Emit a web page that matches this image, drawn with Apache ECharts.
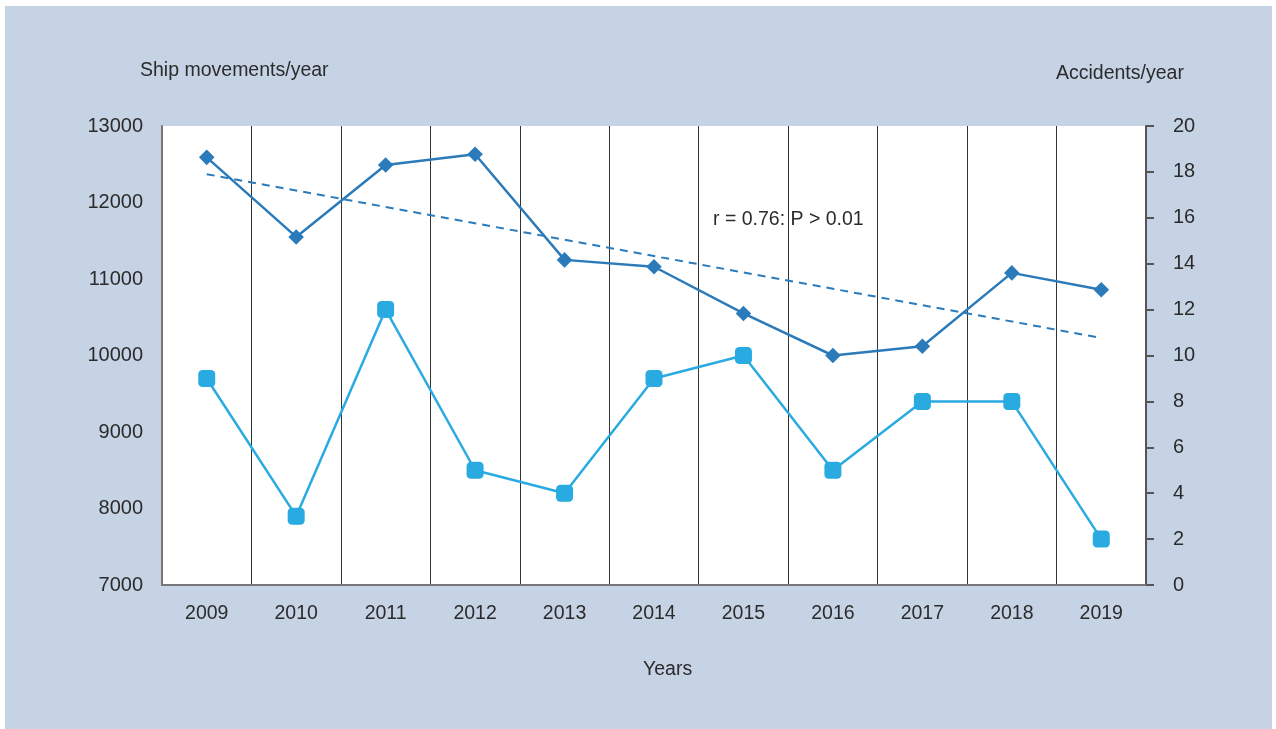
<!DOCTYPE html>
<html>
<head>
<meta charset="utf-8">
<script src="https://cdn.jsdelivr.net/npm/echarts@6/dist/echarts.min.js"></script>
<style>
  html, body { margin: 0; padding: 0; background: #fff; }
  #bg { position: absolute; left: 5px; top: 6px; width: 1267px; height: 723px; background: #c6d3e4; }
  #chart { position: absolute; left: 0; top: 0; width: 1276px; height: 729px; }
</style>
</head>
<body>
<div id="bg"></div>
<div id="chart"></div>
<script>
var years = ['2009', '2010', '2011', '2012', '2013', '2014', '2015', '2016', '2017', '2018', '2019'];
// ship movements per year (left axis)
var shipMovements = [12590, 11550, 12490, 12630, 11250, 11160, 10550, 10000, 10120, 11080, 10860];
// accidents per year (right axis)
var accidents = [9, 3, 12, 5, 4, 9, 10, 5, 8, 8, 2];
// dashed trend line end points
var trendLine = [['2009', 12370], ['2019', 10230]];
var leftTicks = [7000, 13000, 1000];
var rightTicks = [0, 20, 2];

var font = '"Liberation Sans", Arial, sans-serif';
var txt = '#2b2b2b';

var myChart = echarts.init(document.getElementById('chart'));

var option = {
    animation: false,
    textStyle: { fontFamily: font },
    grid: {
        left: 162,
        right: 130,
        top: 126,
        bottom: 144,
        show: true,
        backgroundColor: '#ffffff',
        borderWidth: 0
    },
    xAxis: {
        type: 'category',
        data: years,
        boundaryGap: true,
        axisLine: { lineStyle: { color: '#777', width: 2 } },
        axisTick: { show: false },
        axisLabel: { color: txt, fontSize: 19.5, margin: 19, fontFamily: font },
        splitLine: { show: true, lineStyle: { color: '#333', width: 1 } }
    },
    yAxis: [
        {
            type: 'value',
            min: leftTicks[0],
            max: leftTicks[1],
            interval: leftTicks[2],
            axisLine: { show: true, lineStyle: { color: '#777', width: 2 } },
            axisTick: { show: false },
            axisLabel: { color: txt, fontSize: 20, margin: 19, fontFamily: font, formatter: function (v) { return String(v); } },
            splitLine: { show: false }
        },
        {
            type: 'value',
            position: 'right',
            min: rightTicks[0],
            max: rightTicks[1],
            interval: rightTicks[2],
            axisLine: { show: true, lineStyle: { color: '#555', width: 2 } },
            axisTick: { show: true, inside: false, length: 8, lineStyle: { color: '#555', width: 2 } },
            axisLabel: { color: txt, fontSize: 20, margin: 27, fontFamily: font },
            splitLine: { show: false }
        }
    ],
    graphic: [
        { type: 'text', left: 140, top: 61, style: { text: 'Ship movements/year', fill: txt, font: '19.5px ' + font } },
        { type: 'text', left: 1056, top: 64, style: { text: 'Accidents/year', fill: txt, font: '19.5px ' + font } },
        { type: 'text', left: 643, top: 660, style: { text: 'Years', fill: txt, font: '19.5px ' + font } },
        { type: 'text', left: 713, top: 210, style: { text: 'r = 0.76: P > 0.01', fill: txt, font: '19.5px ' + font } }
    ],
    series: [
        {
            name: 'Trend',
            type: 'line',
            yAxisIndex: 0,
            data: trendLine,
            symbol: 'none',
            lineStyle: { color: '#2b7bba', width: 2, type: [8, 6] },
            z: 2
        },
        {
            name: 'Ship movements',
            type: 'line',
            yAxisIndex: 0,
            data: shipMovements,
            symbol: 'rect',
            symbolSize: 11,
            symbolRotate: 45,
            itemStyle: { color: '#2b7bba' },
            lineStyle: { color: '#2b7bba', width: 2.5 },
            z: 3
        },
        {
            name: 'Accidents',
            type: 'line',
            yAxisIndex: 1,
            data: accidents,
            symbol: 'roundRect',
            symbolSize: 17,
            itemStyle: { color: '#29abe2' },
            lineStyle: { color: '#29abe2', width: 2.5 },
            z: 3
        }
    ]
};

myChart.setOption(option);
</script>
</body>
</html>
